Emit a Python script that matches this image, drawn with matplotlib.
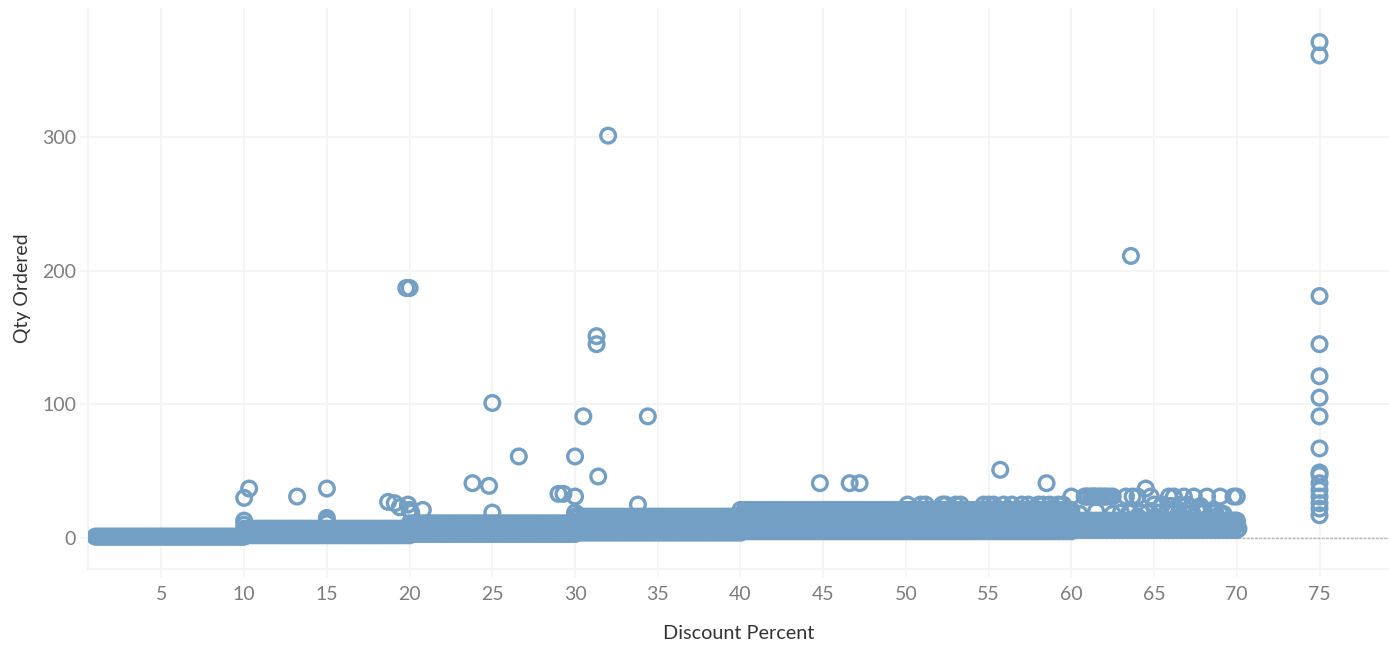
import matplotlib
matplotlib.use("Agg")
import matplotlib.pyplot as plt

plt.rcParams['font.family'] = ['Lato', 'DejaVu Sans']

# Dense band along the bottom, read as discount positions + qty levels
disc_1_10 = [1, 1.125, 1.25, 1.375, 1.5, 1.625, 1.75, 1.875, 2, 2.125, 2.25, 2.375, 2.5, 2.625, 2.75, 2.875,
             3, 3.125, 3.25, 3.375, 3.5, 3.625, 3.75, 3.875, 4, 4.125, 4.25, 4.375, 4.5, 4.625, 4.75, 4.875,
             5, 5.125, 5.25, 5.375, 5.5, 5.625, 5.75, 5.875, 6, 6.125, 6.25, 6.375, 6.5, 6.625, 6.75, 6.875,
             7, 7.125, 7.25, 7.375, 7.5, 7.625, 7.75, 7.875, 8, 8.125, 8.25, 8.375, 8.5, 8.625, 8.75, 8.875,
             9, 9.125, 9.25, 9.375, 9.5, 9.625, 9.75, 9.875, 10]
qty_1_10 = [1]
disc_10_20 = [10, 10.25, 10.5, 10.75, 11, 11.25, 11.5, 11.75, 12, 12.25, 12.5, 12.75, 13, 13.25, 13.5,
              13.75, 14, 14.25, 14.5, 14.75, 15, 15.25, 15.5, 15.75, 16, 16.25, 16.5, 16.75, 17, 17.25,
              17.5, 17.75, 18, 18.25, 18.5, 18.75, 19, 19.25, 19.5, 19.75, 20]
qty_10_20 = [2, 5, 7]
disc_20_30 = [20, 20.25, 20.5, 20.75, 21, 21.25, 21.5, 21.75, 22, 22.25, 22.5, 22.75, 23, 23.25, 23.5,
              23.75, 24, 24.25, 24.5, 24.75, 25, 25.25, 25.5, 25.75, 26, 26.25, 26.5, 26.75, 27, 27.25,
              27.5, 27.75, 28, 28.25, 28.5, 28.75, 29, 29.25, 29.5, 29.75, 30]
qty_20_30 = [3, 7, 11]
disc_30_40 = [30, 30.25, 30.5, 30.75, 31, 31.25, 31.5, 31.75, 32, 32.25, 32.5, 32.75, 33, 33.25, 33.5,
              33.75, 34, 34.25, 34.5, 34.75, 35, 35.25, 35.5, 35.75, 36, 36.25, 36.5, 36.75, 37, 37.25,
              37.5, 37.75, 38, 38.25, 38.5, 38.75, 39, 39.25, 39.5, 39.75, 40]
qty_30_40 = [4, 8, 12, 16]
disc_40_60 = [40, 40.25, 40.5, 40.75, 41, 41.25, 41.5, 41.75, 42, 42.25, 42.5, 42.75, 43, 43.25, 43.5,
              43.75, 44, 44.25, 44.5, 44.75, 45, 45.25, 45.5, 45.75, 46, 46.25, 46.5, 46.75, 47, 47.25,
              47.5, 47.75, 48, 48.25, 48.5, 48.75, 49, 49.25, 49.5, 49.75, 50, 50.25, 50.5, 50.75, 51,
              51.25, 51.5, 51.75, 52, 52.25, 52.5, 52.75, 53, 53.25, 53.5, 53.75, 54, 54.25, 54.5, 54.75,
              55, 55.25, 55.5, 55.75, 56, 56.25, 56.5, 56.75, 57, 57.25, 57.5, 57.75, 58, 58.25, 58.5,
              58.75, 59, 59.25, 59.5, 59.75, 60]
qty_40_60 = [5, 9, 13, 17, 21]
disc_60_70 = [60, 60.25, 60.5, 60.75, 61, 61.25, 61.5, 61.75, 62, 62.25, 62.5, 62.75, 63, 63.25, 63.5,
              63.75, 64, 64.25, 64.5, 64.75, 65, 65.25, 65.5, 65.75, 66, 66.25, 66.5, 66.75, 67, 67.25,
              67.5, 67.75, 68, 68.25, 68.5, 68.75, 69, 69.25, 69.5, 69.75, 70]
qty_60_70 = [6, 10, 13]

# Points that stand clear of the band
outlier_disc = [75, 75, 75, 75, 75, 75, 75, 75, 75, 75, 75, 75, 75, 75, 75, 75,
                32, 63.6, 19.8, 20, 31.3, 31.3, 25, 30.5, 34.4, 26.6, 30, 55.7, 31.4,
                10.3, 10, 15, 13.2, 23.8, 24.8, 18.7, 19.1, 19.4, 19.9, 20, 20.1, 20.8, 25, 29, 29.3, 30, 33.8,
                10, 10, 15, 15, 15, 30, 30.2, 31.4,
                44.8, 46.6, 47.2, 58.5, 64.5,
                60, 60.9, 61.2, 61.4, 61.7, 62, 62.3, 63.3, 63.7, 64, 64.8, 65.9, 66.2, 66.8, 67.4, 68.2, 69, 69.8, 70,
                60.8, 61, 61.3, 61.5, 61.8, 62.1, 62.5,
                50.1, 50.9, 51.2, 52.2, 52.4, 53, 53.3, 54.7, 55, 55.3, 55.9, 56.4, 57, 57.4, 58, 58.3, 58.7, 59.2, 59.5,
                63, 63.6, 64.2, 65, 65.5, 66, 66.5, 67, 67.8, 68, 68.5, 69, 69.9, 70, 69.8, 70.1,
                60.5, 61.5, 62.5, 63.5, 64, 65.3, 66.5, 67.3, 68, 68.7, 69.2, 65.8, 67.6, 66.1, 64.6]
outlier_qty = [371, 361, 181, 145, 121, 105, 91, 67, 49, 47, 41, 36, 31, 26, 22, 17,
               301, 211, 187, 187, 151, 145, 101, 91, 91, 61, 61, 51, 46,
               37, 30, 37, 31, 41, 39, 27, 26, 23, 25, 21, 19, 21, 19, 33, 33, 31, 25,
               13, 10, 15, 13, 11, 19, 17, 15,
               41, 41, 41, 41, 37,
               31, 31, 31, 31, 31, 31, 31, 31, 31, 31, 31, 31, 31, 31, 31, 31, 31, 31, 31,
               31, 31, 31, 31, 31, 31, 31,
               25, 25, 25, 25, 25, 25, 25, 25, 25, 25, 25, 25, 25, 25, 25, 25, 25, 25, 25,
               19, 19, 19, 25, 25, 24, 25, 25, 24, 21, 20, 18, 13, 12, 9, 7,
               18, 20, 18, 19, 16, 19, 19, 19, 19, 19, 18, 19, 21, 21, 19]

x_ticks = [5, 10, 15, 20, 25, 30, 35, 40, 45, 50, 55, 60, 65, 70, 75]
y_ticks = [0, 100, 200, 300]

DOT = "#749fc5"
GRID = "#f3f3f3"

fig = plt.figure(figsize=(13.89, 6.46), dpi=100)
ax = fig.add_axes([88 / 1389, (646 - 569) / 646, (1389 - 88) / 1389, (569 - 8) / 646])

# band: every discount position at every qty level
band_x = []
band_y = []
for discs, levels in [(disc_1_10, qty_1_10), (disc_10_20, qty_10_20), (disc_20_30, qty_20_30),
                      (disc_30_40, qty_30_40), (disc_40_60, qty_40_60), (disc_60_70, qty_60_70)]:
    for d in discs:
        for q in levels:
            band_x.append(d)
            band_y.append(q)

ring = dict(s=112, facecolors="none", edgecolors=DOT, linewidths=2.4, zorder=3)
ax.scatter(band_x, band_y, **ring)
ax.scatter(outlier_disc, outlier_qty, **ring)

ax.set_xlim(0.56, 79.2)
ax.set_ylim(-23.2, 396.5)
ax.set_xticks(x_ticks)
ax.set_yticks(y_ticks)
ax.grid(True, color=GRID, linewidth=1.3, zorder=0)
ax.set_axisbelow(True)
ax.axhline(0, color="#b5b5b5", linewidth=1, linestyle=(0, (2, 1)), zorder=1)

for side in ["top", "right"]:
    ax.spines[side].set_visible(False)
for side in ["left", "bottom"]:
    ax.spines[side].set_color(GRID)
    ax.spines[side].set_linewidth(1.3)

ax.tick_params(axis="both", colors=GRID, labelcolor="#7d7d7d", labelsize=14, width=1.2, length=5.5)
ax.tick_params(axis="x", pad=7)
ax.tick_params(axis="y", pad=3)
ax.set_xlabel("Discount Percent", fontsize=14.3, color="#333333", labelpad=15.7)
ax.set_ylabel("Qty Ordered", fontsize=14, color="#333333", labelpad=8)

fig.savefig("out.png", dpi=100)
